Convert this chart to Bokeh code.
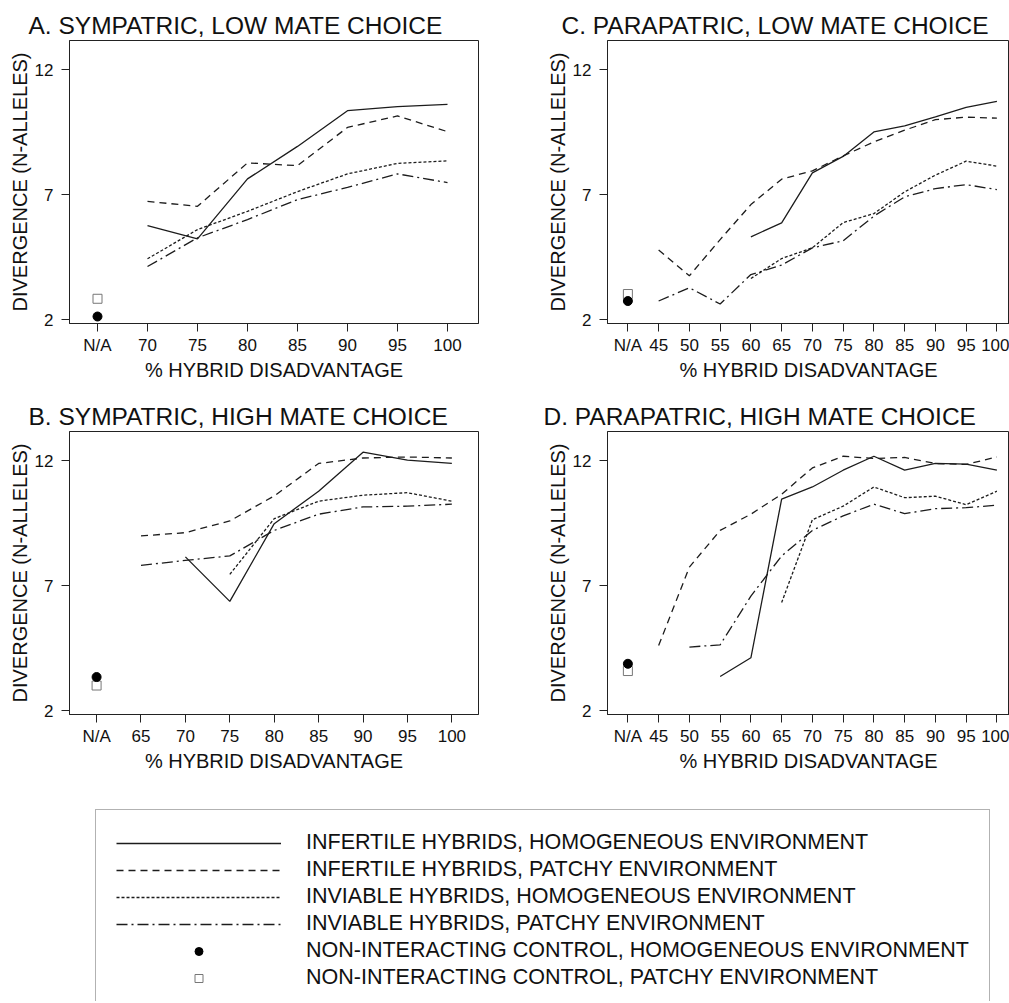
import math
from bokeh.plotting import figure
from bokeh.models import Range1d, FixedTicker, Legend, LegendItem
from bokeh.layouts import column, row
from bokeh.embed import file_html
from bokeh.resources import INLINE

nan = float("nan")

# ---------------- data ----------------
cats_A = ["N/A", "70", "75", "80", "85", "90", "95", "100"]
A_inf_hom = [nan, 5.76, 5.23, 7.63, 8.93, 10.36, 10.52, 10.61]
A_inf_pat = [nan, 6.73, 6.53, 8.27, 8.16, 9.69, 10.15, 9.52]
A_inv_hom = [nan, 4.43, 5.60, 6.33, 7.12, 7.83, 8.25, 8.35]
A_inv_pat = [nan, 4.12, 5.27, 6.00, 6.80, 7.29, 7.83, 7.48]
A_ctrl_hom = 2.12
A_ctrl_pat = 2.83

cats_B = ["N/A", "65", "70", "75", "80", "85", "90", "95", "100"]
B_inf_hom = [nan, nan, 8.15, 6.37, 9.48, 10.78, 12.34, 12.02, 11.89]
B_inf_pat = [nan, 8.99, 9.12, 9.59, 10.59, 11.89, 12.11, 12.15, 12.11]
B_inv_hom = [nan, nan, nan, 7.45, 9.68, 10.38, 10.62, 10.72, 10.38]
B_inv_pat = [nan, 7.81, 8.01, 8.19, 9.21, 9.86, 10.15, 10.18, 10.26]
B_ctrl_hom = 3.34
B_ctrl_pat = 3.00

cats_CD = ["N/A", "45", "50", "55", "60", "65", "70", "75", "80", "85", "90", "95", "100"]
C_inf_hom = [nan, nan, nan, nan, 5.31, 5.87, 7.87, 8.53, 9.51, 9.75, 10.11, 10.49, 10.73]
C_inf_pat = [nan, 4.78, 3.75, 5.20, 6.60, 7.62, 7.95, 8.55, 9.11, 9.58, 10.00, 10.10, 10.06]
C_inv_hom = [nan, nan, nan, nan, 3.64, 4.44, 4.87, 5.88, 6.24, 7.11, 7.78, 8.34, 8.14]
C_inv_pat = [nan, 2.74, 3.27, 2.62, 3.80, 4.18, 4.87, 5.15, 6.14, 6.91, 7.24, 7.40, 7.20]
C_ctrl_hom = 2.74
C_ctrl_pat = 3.02

D_inf_hom = [nan, nan, nan, 3.36, 4.11, 10.46, 10.95, 11.62, 12.18, 11.62, 11.89, 11.86, 11.62]
D_inf_pat = [nan, 4.60, 7.74, 9.21, 9.86, 10.66, 11.71, 12.18, 12.09, 12.13, 11.89, 11.85, 12.15]
D_inv_hom = [nan, nan, nan, nan, nan, 6.32, 9.64, 10.18, 10.95, 10.52, 10.58, 10.24, 10.78]
D_inv_pat = [nan, nan, 4.54, 4.63, 6.58, 8.19, 9.21, 9.79, 10.26, 9.88, 10.08, 10.12, 10.22]
D_ctrl_hom = 3.87
D_ctrl_pat = 3.58

y_ticks = [2, 7, 12]
series_labels = [
    "INFERTILE HYBRIDS, HOMOGENEOUS ENVIRONMENT",
    "INFERTILE HYBRIDS, PATCHY ENVIRONMENT",
    "INVIABLE HYBRIDS, HOMOGENEOUS ENVIRONMENT",
    "INVIABLE HYBRIDS, PATCHY ENVIRONMENT",
    "NON-INTERACTING CONTROL, HOMOGENEOUS ENVIRONMENT",
    "NON-INTERACTING CONTROL, PATCHY ENVIRONMENT",
]

# ---------------- styles ----------------
DASHES = ["solid", "7 5", "3 2", "11 4 2 4"]
LINE_COLOR = "#1c1c1c"
LINE_W = 1.3
FONT = "Liberation Sans"


def panel(title, cats, series, ctrl_hom, ctrl_pat, x_start, x_end, width,
          border_left, border_right, title_offset):
    p = figure(width=width, height=391,
               x_range=Range1d(x_start, x_end), y_range=Range1d(1.84, 13.17),
               output_backend="svg", toolbar_location=None,
               min_border_left=border_left, min_border_right=border_right,
               min_border_top=40, min_border_bottom=68)
    p.title.text = title
    p.title.text_font = FONT
    p.title.text_font_size = "24.5px"
    p.title.text_font_style = "normal"
    p.title.text_color = "#111111"
    p.title.align = "left"
    p.title.offset = title_offset
    p.title.standoff = 3

    xs = list(range(len(cats)))
    for vals, dash in zip(series, DASHES):
        p.line(xs, vals, line_dash=dash, line_color=LINE_COLOR, line_width=LINE_W)
    xi = cats.index("N/A")
    p.scatter([xi], [ctrl_pat], marker="square", size=9,
              fill_color="white", line_color="#777777", line_width=1)
    p.scatter([xi], [ctrl_hom], marker="circle", size=9,
              fill_color="black", line_color="black")

    p.grid.visible = False
    p.outline_line_color = "#222222"
    p.outline_line_width = 1

    p.xaxis.ticker = FixedTicker(ticks=xs)
    p.xaxis.major_label_overrides = {i: c for i, c in enumerate(cats)}
    p.yaxis.ticker = FixedTicker(ticks=y_ticks)
    for ax in (p.xaxis, p.yaxis):
        ax.minor_tick_line_color = None
        ax.major_tick_in = 0
        ax.major_tick_out = 8
        ax.major_tick_line_color = "#222222"
        ax.axis_line_color = "#222222"
        ax.major_label_text_font = FONT
        ax.major_label_text_font_size = "17px"
        ax.major_label_text_color = "#111111"
        ax.axis_label_text_font = FONT
        ax.axis_label_text_font_size = "20px"
        ax.axis_label_text_font_style = "normal"
        ax.axis_label_text_color = "#111111"
    p.xaxis.axis_label = "% HYBRID DISADVANTAGE"
    p.xaxis.major_label_standoff = 4
    p.xaxis.axis_label_standoff = 1
    p.yaxis.axis_label = "DIVERGENCE (N-ALLELES)"
    p.yaxis.major_label_standoff = 8
    p.yaxis.axis_label_standoff = 1
    return p


pA = panel("A. SYMPATRIC, LOW MATE CHOICE", cats_A,
           [A_inf_hom, A_inf_pat, A_inv_hom, A_inv_pat], A_ctrl_hom, A_ctrl_pat,
           -0.56, 7.62, 507, 69, 29, -41)
pB = panel("B. SYMPATRIC, HIGH MATE CHOICE", cats_B,
           [B_inf_hom, B_inf_pat, B_inv_hom, B_inv_pat], B_ctrl_hom, B_ctrl_pat,
           -0.61, 8.60, 507, 69, 29, -41)
pC = panel("C. PARAPATRIC, LOW MATE CHOICE", cats_CD,
           [C_inf_hom, C_inf_pat, C_inv_hom, C_inv_pat], C_ctrl_hom, C_ctrl_pat,
           -0.663, 12.41, 502, 100, 0, -46)
pD = panel("D. PARAPATRIC, HIGH MATE CHOICE", cats_CD,
           [D_inf_hom, D_inf_pat, D_inv_hom, D_inv_pat], D_ctrl_hom, D_ctrl_pat,
           -0.663, 12.41, 502, 100, 0, -64)

# ---------------- legend panel ----------------
lp = figure(width=1009, height=219, x_range=Range1d(0, 1), y_range=Range1d(0, 1),
            output_backend="svg", toolbar_location=None,
            x_axis_location=None, y_axis_location=None,
            min_border_left=68, min_border_right=0, min_border_top=0, min_border_bottom=0)
lp.grid.visible = False
lp.outline_line_color = None

renderers = []
for dash in DASHES:
    renderers.append(lp.line([nan], [nan], line_dash=dash, line_color=LINE_COLOR, line_width=LINE_W))
renderers.append(lp.scatter([nan], [nan], marker="circle", size=9, fill_color="black", line_color="black"))
renderers.append(lp.scatter([nan], [nan], marker="square", size=9, fill_color="white", line_color="#777777"))

legend = Legend(items=[LegendItem(label=lab, renderers=[r]) for lab, r in zip(series_labels, renderers)],
                location="top_left", margin=27, padding=20,
                glyph_width=165, glyph_height=20, label_standoff=25, spacing=2,
                border_line_color="#666666", border_line_width=1,
                label_text_font=FONT, label_text_font_size="21.5px", label_text_color="#111111",
                background_fill_color="white")
lp.add_layout(legend)

layout = column(row(pA, pC), row(pB, pD), lp)
open("out.html", "w").write(file_html(layout, INLINE))
